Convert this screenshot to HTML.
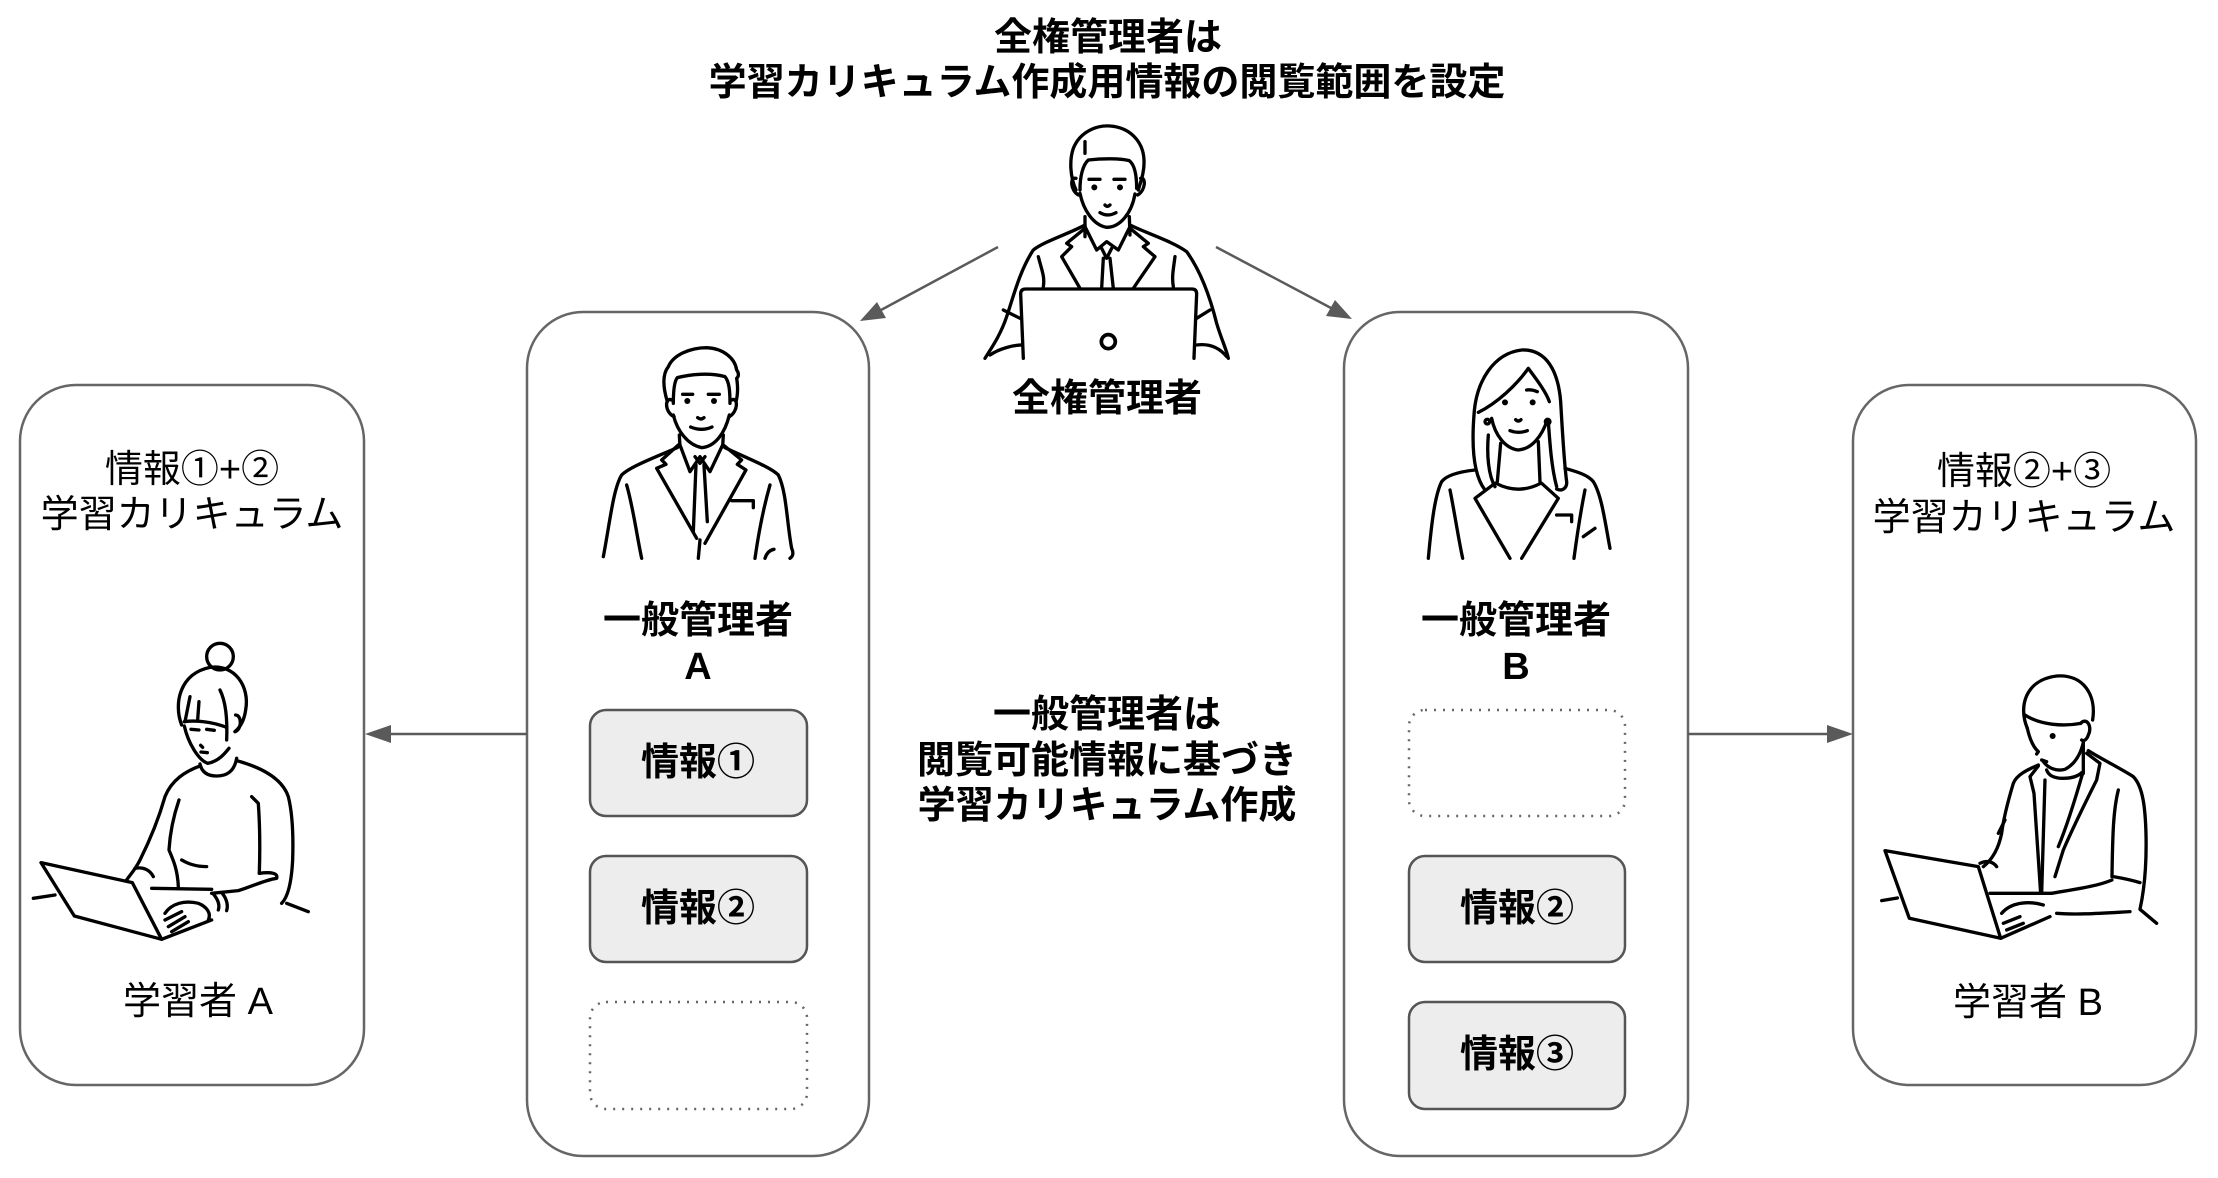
<!DOCTYPE html>
<html><head><meta charset="utf-8"><style>
html,body{margin:0;padding:0;background:#fff;}
svg{display:block;}
.t{font-family:"Liberation Sans","Noto Sans CJK JP",sans-serif;font-size:38px;fill:#000;}
.bd{font-weight:bold;}
.fig{fill:none;stroke:#000;stroke-width:10;stroke-linecap:round;stroke-linejoin:round;}
.dot{fill:#000;stroke:none;}
</style></head><body>
<svg width="2218" height="1178" viewBox="0 0 2218 1178" xmlns="http://www.w3.org/2000/svg">
<rect x="0" y="0" width="2218" height="1178" fill="#fff"/>

<!-- Title -->
<text class="t bd" x="1108" y="38" text-anchor="middle" dominant-baseline="central">全権管理者は</text>
<text class="t bd" x="1107" y="83" text-anchor="middle" dominant-baseline="central">学習カリキュラム作成用情報の閲覧範囲を設定</text>

<!-- Big boxes -->
<rect x="20" y="385" width="344" height="700" rx="56" ry="56" fill="#fff" stroke="#666" stroke-width="2.5"/>
<rect x="527" y="312" width="342" height="844" rx="56" ry="56" fill="#fff" stroke="#666" stroke-width="2.5"/>
<rect x="1344" y="312" width="344" height="844" rx="56" ry="56" fill="#fff" stroke="#666" stroke-width="2.5"/>
<rect x="1853" y="385" width="343" height="700" rx="56" ry="56" fill="#fff" stroke="#666" stroke-width="2.5"/>

<!-- Info boxes A -->
<rect x="590" y="710" width="217" height="106" rx="16" fill="#ededed" stroke="#555" stroke-width="2.5"/>
<rect x="590" y="856" width="217" height="106" rx="16" fill="#ededed" stroke="#555" stroke-width="2.5"/>
<rect x="590" y="1002" width="217" height="107" rx="16" fill="none" stroke="#666" stroke-width="2.5" stroke-dasharray="2 7"/>
<!-- Info boxes B -->
<rect x="1409" y="710" width="216" height="106" rx="16" fill="none" stroke="#666" stroke-width="2.5" stroke-dasharray="2 7"/>
<rect x="1409" y="856" width="216" height="106" rx="16" fill="#ededed" stroke="#555" stroke-width="2.5"/>
<rect x="1409" y="1002" width="216" height="107" rx="16" fill="#ededed" stroke="#555" stroke-width="2.5"/>

<text class="t bd" x="698" y="763" text-anchor="middle" dominant-baseline="central">情報①</text>
<text class="t bd" x="698" y="909" text-anchor="middle" dominant-baseline="central">情報②</text>
<text class="t bd" x="1517" y="909" text-anchor="middle" dominant-baseline="central">情報②</text>
<text class="t bd" x="1517" y="1055" text-anchor="middle" dominant-baseline="central">情報③</text>

<!-- Admin labels -->
<text class="t bd" x="698" y="621" text-anchor="middle" dominant-baseline="central">一般管理者</text>
<text class="t bd" x="698" y="667" text-anchor="middle" dominant-baseline="central">A</text>
<text class="t bd" x="1516" y="621" text-anchor="middle" dominant-baseline="central">一般管理者</text>
<text class="t bd" x="1516" y="667" text-anchor="middle" dominant-baseline="central">B</text>

<!-- Middle text -->
<text class="t bd" x="1107" y="715" text-anchor="middle" dominant-baseline="central">一般管理者は</text>
<text class="t bd" x="1107" y="761" text-anchor="middle" dominant-baseline="central">閲覧可能情報に基づき</text>
<text class="t bd" x="1107" y="806" text-anchor="middle" dominant-baseline="central">学習カリキュラム作成</text>

<!-- Super admin label -->
<text class="t bd" x="1107" y="399" text-anchor="middle" dominant-baseline="central">全権管理者</text>

<!-- Learner texts -->
<text class="t" x="192" y="470" text-anchor="middle" dominant-baseline="central">情報①+②</text>
<text class="t" x="192" y="515" text-anchor="middle" dominant-baseline="central">学習カリキュラム</text>
<text class="t" x="198" y="1002" text-anchor="middle" dominant-baseline="central">学習者 A</text>
<text class="t" x="2024" y="472" text-anchor="middle" dominant-baseline="central">情報②+③</text>
<text class="t" x="2024" y="518" text-anchor="middle" dominant-baseline="central">学習カリキュラム</text>
<text class="t" x="2028" y="1003" text-anchor="middle" dominant-baseline="central">学習者 B</text>

<!-- Arrows -->
<g stroke="#5a5a5a" stroke-width="2.5" fill="none">
<line x1="998" y1="247" x2="881" y2="310"/>
<line x1="1216" y1="247" x2="1331" y2="308"/>
<line x1="527" y1="734" x2="389" y2="734"/>
<line x1="1688" y1="734" x2="1829" y2="734"/>
</g>
<g fill="#5a5a5a" stroke="none">
<polygon points="860,321 877,302 886,318"/>
<polygon points="1352,319 1326,316 1335,300"/>
<polygon points="365,734 391,725 391,743"/>
<polygon points="1853,734 1827,725 1827,743"/>
</g>

<!-- Super admin figure -->
<g transform="translate(970,110) scale(0.3333)" class="fig">
<path d="M318,240 C300,200 298,150 310,115 C330,65 380,45 420,48 C480,52 520,95 522,150 C524,185 512,215 505,240"/>
<path d="M345,95 L345,130"/>
<path d="M330,240 C330,200 338,165 355,150 C400,145 450,145 478,152 C495,165 500,200 500,235"/>
<path d="M318,205 C300,200 300,240 325,255"/>
<path d="M512,205 C528,200 528,240 503,255"/>
<path d="M330,250 C340,300 370,345 410,352 C450,352 485,310 495,252"/>
<path d="M357,208 L390,208 M432,208 L465,208"/>
<path d="M405,285 Q412,293 420,285"/>
<path d="M390,308 Q412,322 438,308"/>
<path d="M345,320 L345,380 M478,320 L480,375"/>
<path d="M345,350 L380,420 L410,395 L445,420 L480,350"/>
<path d="M395,415 L410,445 L425,415 M400,445 L395,535 M420,445 L430,535"/>
<path d="M345,355 L290,400 L305,410 L275,440 L330,535"/>
<path d="M480,355 L535,400 L520,410 L555,440 L490,535"/>
<path d="M345,345 C300,370 220,395 190,420 C150,480 130,560 110,620 C90,680 60,720 45,745"/>
<path d="M480,345 C530,370 610,395 650,425 C690,480 720,560 740,640 C755,690 770,720 775,745"/>
<path d="M205,440 C215,480 225,500 220,530 M615,440 C610,480 605,500 610,530"/>
<path d="M60,735 C90,715 130,705 160,705 M680,705 C720,700 750,715 770,740"/>
<path d="M100,600 L150,625 M720,600 L680,625"/>
<path d="M160,745 L152,552 Q152,537 167,537 L666,537 Q680,537 680,552 L672,745" fill="#fff"/>
<circle cx="415" cy="695" r="21" stroke-width="11"/>
</g>
<g transform="translate(970,110) scale(0.3333)">
<circle class="dot" cx="373" cy="232" r="9"/><circle class="dot" cx="450" cy="232" r="9"/>
</g>

<!-- Admin A (man) -->
<g transform="translate(590,335) scale(0.3333)" class="fig">
<path d="M232,200 C220,160 215,120 235,95 C250,60 300,38 350,38 C400,40 435,70 440,105 C448,115 446,125 440,130 C445,160 442,185 438,200"/>
<path d="M250,205 C250,170 252,140 262,128 C300,118 360,112 405,125 C418,140 420,170 420,205"/>
<path d="M245,195 C225,185 222,230 252,245 M425,195 C445,185 445,230 418,245"/>
<path d="M250,240 C262,290 295,330 335,338 C375,335 405,295 418,240"/>
<path d="M278,178 L308,178 M355,178 L388,178"/>
<path d="M323,248 Q332,256 342,248"/>
<path d="M302,276 Q335,290 366,276"/>
<path d="M268,300 L270,335 M400,300 L398,335"/>
<path d="M270,330 L300,410 L330,365 L360,410 L398,330"/>
<path d="M315,365 L330,385 L345,365 M318,390 L310,590 M342,390 L352,560"/>
<path d="M265,330 L215,375 L228,388 L200,400 L320,610 M400,330 L455,375 L442,388 L468,405 L345,625"/>
<path d="M330,615 L325,670"/>
<path d="M262,338 C200,365 120,395 95,420 C70,460 60,560 40,665"/>
<path d="M405,338 C460,365 540,395 565,420 C590,470 590,560 605,640 C612,655 608,665 600,670"/>
<path d="M110,450 C130,520 140,600 155,670 M540,450 C520,520 505,600 495,670"/>
<path d="M425,497 L490,497 L490,518"/>
<path d="M525,670 C530,655 540,645 552,643"/>
</g>
<g transform="translate(590,335) scale(0.3333)">
<circle class="dot" cx="292" cy="198" r="9"/><circle class="dot" cx="372" cy="198" r="9"/>
</g>

<!-- Admin B (woman) -->
<g transform="translate(1410,335) scale(0.3333)" class="fig">
<path d="M225,465 C190,420 185,330 192,240 C198,140 250,55 335,45 C410,42 445,110 452,200 C458,300 462,380 470,440 C472,460 455,470 440,462"/>
<path d="M235,300 C230,360 235,420 255,455 M415,260 C420,330 425,400 440,455"/>
<path d="M205,232 C260,205 320,150 355,100 M355,100 C385,140 410,175 418,200"/>
<path d="M245,250 C255,300 285,340 325,345 C365,342 395,305 412,255"/>
<path d="M350,165 Q365,163 382,170"/>
<circle cx="232" cy="260" r="7"/><circle cx="413" cy="260" r="7"/>
<path d="M317,254 Q325,262 333,254 M300,287 Q326,297 352,287"/>
<path d="M272,325 L262,440 M385,320 L390,440"/>
<path d="M258,445 Q325,480 392,445"/>
<path d="M195,405 C150,410 110,420 95,440 C75,480 65,560 55,670"/>
<path d="M465,400 C500,410 535,420 550,440 C575,480 585,560 600,640"/>
<path d="M255,445 L195,490 L300,670 M395,445 L445,490 L335,670"/>
<path d="M120,465 C135,540 145,610 158,670 M525,465 C510,540 500,610 492,670"/>
<path d="M440,540 L485,540 L485,560 M520,605 L555,580"/>
</g>
<g transform="translate(1410,335) scale(0.3333)">
<circle class="dot" cx="285" cy="202" r="9"/><circle class="dot" cx="368" cy="202" r="9"/>
</g>

<!-- Learner A -->
<g transform="translate(25,640) scale(0.3333)" class="fig">
<circle cx="585" cy="50" r="40"/>
<path d="M470,255 C445,190 465,100 555,82 C630,72 675,140 662,210 C658,240 645,262 630,275"/>
<path d="M480,245 L495,170 M518,240 L522,185 M585,150 C600,180 608,230 605,300"/>
<path d="M478,245 C510,240 560,245 605,262"/>
<path d="M632,225 C650,225 652,268 630,275"/>
<path d="M478,258 C490,310 520,360 548,370 C580,365 600,340 612,325"/>
<path d="M498,268 L522,270 M545,268 L568,271 M527,316 L533,322 M528,336 L547,338"/>
<path d="M525,372 C530,395 545,408 575,408 C605,408 628,395 635,355"/>
<path d="M525,378 C480,395 440,420 420,470 C400,540 370,610 345,660 C330,690 315,705 305,720"/>
<path d="M635,362 C700,380 770,410 790,470 C805,530 805,600 803,660 C800,720 790,770 770,790"/>
<path d="M462,480 C445,530 435,580 432,630 C445,660 458,690 460,740"/>
<path d="M680,470 L700,490 C705,560 705,640 703,700"/>
<path d="M470,660 C500,678 525,680 545,680"/>
<path d="M703,700 C740,695 760,700 755,715 C720,720 680,740 640,752 L560,760"/>
<path d="M565,762 C580,780 585,795 580,810 M590,758 C605,775 610,795 605,812"/>
<path d="M330,685 C355,680 375,690 385,710 M380,745 L560,748"/>
<path d="M48,668 L322,728 L410,898 L148,828 Z"/>
<path d="M410,898 L560,840"/>
<path d="M420,820 C440,790 480,780 520,790 C545,800 560,820 550,840"/>
<path d="M420,840 L470,815 M430,860 L480,830 M440,875 L490,845"/>
<path d="M25,775 L90,765 M785,790 L850,815"/>
</g>

<!-- Learner B -->
<g transform="translate(1870,660) scale(0.3333)" class="fig">
<path d="M472,205 C445,140 465,60 560,48 C640,42 680,105 668,180"/>
<path d="M465,165 C510,195 580,200 632,190"/>
<path d="M632,190 C650,170 668,200 655,225 C650,240 640,245 635,240"/>
<path d="M472,205 C480,240 490,262 505,275 L500,282"/>
<path d="M520,305 C535,325 560,335 585,328 C610,315 630,290 640,248"/>
<path d="M515,300 L530,305"/>
<path d="M530,330 C535,345 550,355 580,355 C605,355 625,348 635,338 M640,248 L640,340"/>
<path d="M505,315 C470,330 440,345 430,370 C415,420 400,480 395,520 C385,570 365,600 340,620"/>
<path d="M505,318 L480,350 L492,400 L512,700"/>
<path d="M650,280 L690,310 L680,360 C650,420 610,500 580,570 L555,650"/>
<path d="M525,360 L515,700 M638,340 C615,420 590,500 565,560"/>
<path d="M655,272 C700,300 760,330 790,350 C820,380 826,450 828,520 C830,600 825,680 810,748 L860,790"/>
<path d="M745,390 C730,450 728,520 726,650 M730,650 C760,655 790,662 810,668"/>
<path d="M545,700 C600,690 680,680 726,660 M560,760 C620,765 690,760 780,755"/>
<path d="M45,572 L325,620 L392,835 L118,775 Z"/>
<path d="M392,835 L540,770 M360,700 L545,700"/>
<path d="M395,760 C420,730 470,720 520,735 M400,790 L450,770 M410,810 L460,790"/>
<path d="M35,722 L82,714"/>
<path d="M330,610 C350,600 370,605 380,620 M405,480 C395,500 390,510 385,520"/>
</g>
<g transform="translate(1870,660) scale(0.3333)">
<circle class="dot" cx="548" cy="228" r="9"/>
</g>
</svg>
</body></html>
